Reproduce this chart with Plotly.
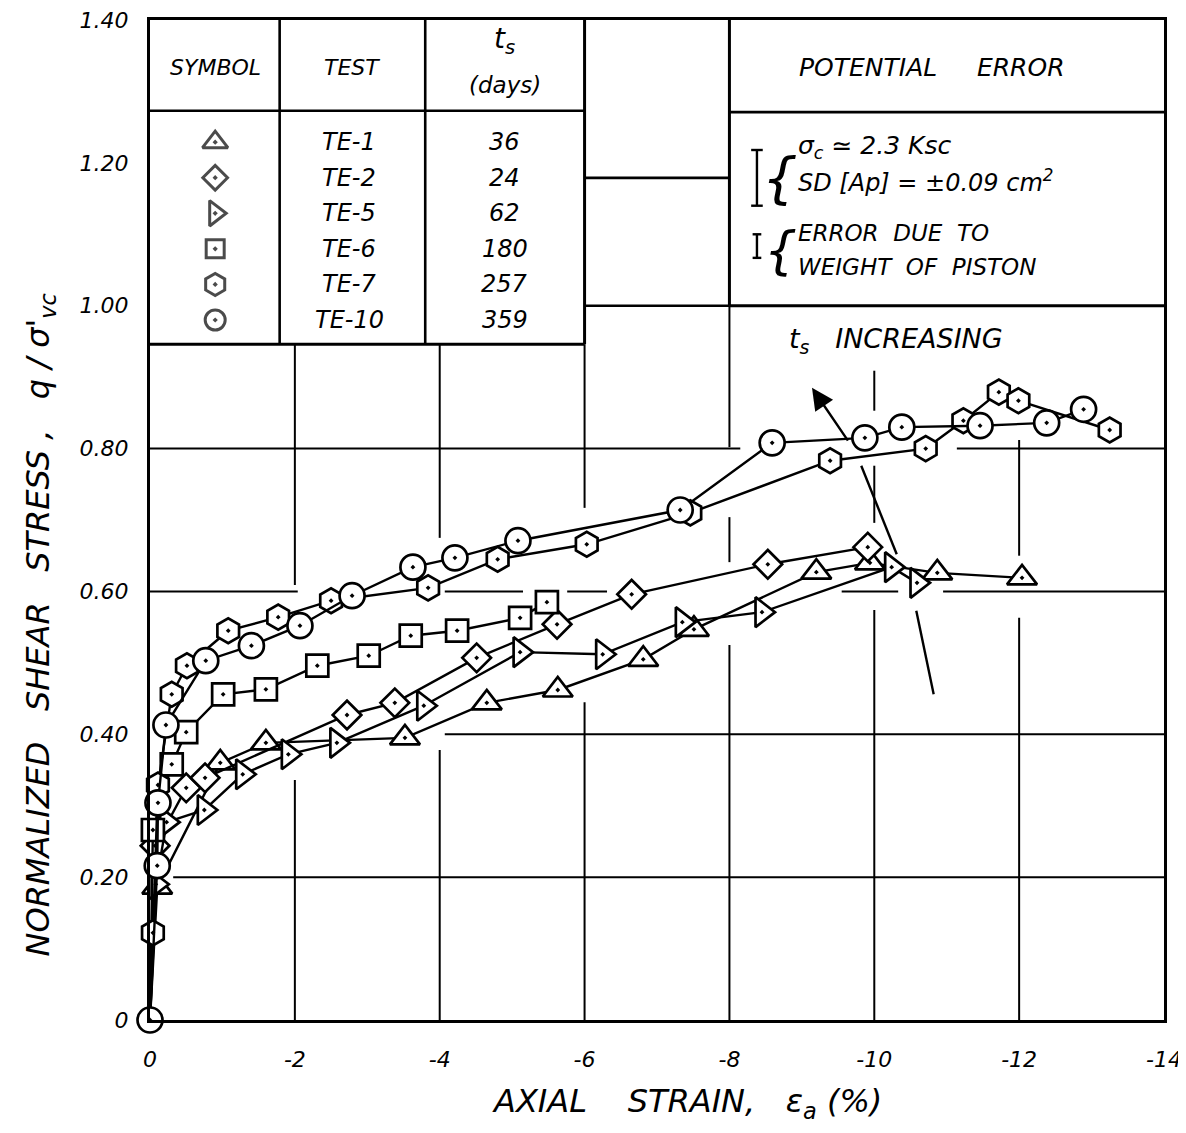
import plotly.graph_objects as go

# ---------------- data ----------------
tests = ["TE-1", "TE-2", "TE-5", "TE-6", "TE-7", "TE-10"]
ts_days = ["36", "24", "62", "180", "257", "359"]

te1_x = [0, -0.10, -0.97, -1.60, -3.52, -4.65, -5.63, -6.81, -7.51, -9.20, -9.94, -10.87, -12.04]
te1_y = [0, 0.186, 0.360, 0.388, 0.395, 0.444, 0.462, 0.505, 0.547, 0.627, 0.640, 0.626, 0.619]

te2_x = [0, -0.07, -0.50, -0.76, -2.72, -3.38, -4.51, -5.62, -6.65, -8.53, -9.91]
te2_y = [0, 0.244, 0.325, 0.339, 0.427, 0.444, 0.507, 0.554, 0.596, 0.638, 0.662]

te5_x = [0, -0.08, -0.23, -0.75, -1.28, -1.91, -2.58, -3.78, -5.11, -6.25, -7.35, -8.45, -10.24, -10.59]
te5_y = [0, 0.190, 0.277, 0.294, 0.344, 0.372, 0.388, 0.440, 0.515, 0.512, 0.557, 0.571, 0.634, 0.612]

te6_x = [0, -0.04, -0.30, -0.50, -1.01, -1.60, -2.31, -3.02, -3.60, -4.24, -5.11, -5.48]
te6_y = [0, 0.266, 0.358, 0.403, 0.456, 0.463, 0.496, 0.510, 0.538, 0.545, 0.563, 0.585]

te7_x = [0, -0.04, -0.11, -0.30, -0.51, -1.08, -1.77, -2.50, -3.84, -4.80, -6.03, -7.46, -9.39, -10.71, -11.23, -11.72, -11.99, -13.25]
te7_y = [0, 0.122, 0.329, 0.456, 0.496, 0.545, 0.564, 0.587, 0.605, 0.645, 0.666, 0.710, 0.783, 0.800, 0.839, 0.879, 0.867, 0.826]

te10_x = [0, -0.10, -0.11, -0.22, -0.77, -1.40, -2.07, -2.79, -3.63, -4.21, -5.08, -7.32, -8.59, -9.87, -10.38, -11.46, -12.38, -12.89]
te10_y = [0, 0.216, 0.304, 0.413, 0.503, 0.524, 0.552, 0.594, 0.634, 0.647, 0.671, 0.714, 0.808, 0.815, 0.830, 0.832, 0.836, 0.855]

x_ticks = [0, -2, -4, -6, -8, -10, -12, -14]
x_ticktext = ["0", "-2", "-4", "-6", "-8", "-10", "-12", "-14"]
y_ticks = [0, 0.2, 0.4, 0.6, 0.8, 1.0, 1.2, 1.4]
y_ticktext = ["0", "0.20", "0.40", "0.60", "0.80", "1.00", "1.20", "1.40"]

# ---------------- styling ----------------
FONT = "DejaVu Sans"
BLACK = "black"
symbols = ["triangle-up-dot", "diamond-dot", "triangle-right-dot",
           "square-dot", "hexagon-dot", "circle-dot"]
msize = [26, 22, 26, 22, 25, 25]
series = [(te1_x, te1_y), (te2_x, te2_y), (te5_x, te5_y),
          (te6_x, te6_y), (te7_x, te7_y), (te10_x, te10_y)]
NB = "&nbsp;"

fig = go.Figure()

for i, (xs, ys) in enumerate(series):
    # the origin symbol is drawn once (TE-10 circle); other lines start there without a symbol
    op = [1.0] * len(xs)
    if tests[i] != "TE-10":
        op[0] = 0.0
    fig.add_trace(go.Scatter(
        x=xs, y=ys, mode="lines+markers", name=tests[i],
        line=dict(color=BLACK, width=2.4),
        marker=dict(symbol=symbols[i], size=msize[i], color="white",
                    opacity=op, line=dict(color=BLACK, width=2.7)),
        cliponaxis=False, showlegend=False))

# ---------------- grid (hand-drawn grid with gaps) ----------------
grid_v = [(-2, 0.609, 0.946), (-2, 0, 0.336),
          (-4, 0.675, 0.946), (-4, 0, 0.378),
          (-6, 0.717, 0.946), (-6, 0, 0.445),
          (-8, 0.802, 1.0), (-8, 0.641, 0.704), (-8, 0, 0.525),
          (-10, 0.853, 0.909), (-10, 0.696, 0.776), (-10, 0, 0.574),
          (-12, 0.650, 0.812), (-12, 0, 0.563)]
grid_h = [(0.8, 0, -8.15), (0.8, -11.14, -14),
          (0.6, 0, -2.04), (0.6, -4.07, -5.15), (0.6, -5.76, -6.31),
          (0.6, -9.55, -10.33), (0.6, -10.95, -14),
          (0.4, -4.07, -14), (0.2, -0.32, -14)]
shapes = []
for gx, a, b in grid_v:
    shapes.append(dict(type="line", xref="x", yref="y", x0=gx, x1=gx, y0=a, y1=b,
                       line=dict(color=BLACK, width=2), layer="below"))
for gy, a, b in grid_h:
    shapes.append(dict(type="line", xref="x", yref="y", x0=a, x1=b, y0=gy, y1=gy,
                       line=dict(color=BLACK, width=2), layer="below"))

# ---------------- table boxes ----------------
def ln(x0, y0, x1, y1, w=2.6):
    shapes.append(dict(type="line", xref="x", yref="y", x0=x0, x1=x1, y0=y0, y1=y1,
                       line=dict(color=BLACK, width=w), layer="above"))

# left legend table
ln(0, 0.946, -6, 0.946, 3)
ln(-6, 0.946, -6, 1.4, 3)
ln(-1.79, 0.946, -1.79, 1.4)
ln(-3.80, 0.946, -3.80, 1.4)
ln(0, 1.273, -6, 1.273)
# middle column
ln(-6, 1.0, -8, 1.0)
ln(-8, 1.0, -8, 1.4, 3)
ln(-6, 1.179, -8, 1.179)
# right table
ln(-8, 1.0, -14, 1.0, 3)
ln(-8, 1.271, -14, 1.271)

# error bars in right table
ln(-8.38, 1.140, -8.38, 1.218, 2.4)
ln(-8.30, 1.218, -8.46, 1.218, 2.4)
ln(-8.30, 1.140, -8.46, 1.140, 2.4)
ln(-8.38, 1.067, -8.38, 1.100, 2.4)
ln(-8.32, 1.100, -8.44, 1.100, 2.4)
ln(-8.32, 1.067, -8.44, 1.067, 2.4)

# "ts increasing" arrow shaft (broken where it crosses the curves)
ln(-10.82, 0.456, -10.58, 0.573, 2.4)
ln(-10.31, 0.652, -9.82, 0.776, 2.4)

annotations = []
def txt(x, y, s, size=19, anchor="center", **kw):
    annotations.append(dict(x=x, y=y, xref="x", yref="y", text=s, showarrow=False,
                            xanchor=anchor, yanchor="middle",
                            font=dict(family=FONT, size=size, color=BLACK, style="italic"), **kw))

# left table text
txt(-0.90, 1.333, "SYMBOL", 22)
txt(-2.79, 1.333, "TEST", 22)
txt(-4.90, 1.372, "t<sub>s</sub>", 28)
txt(-4.90, 1.309, "(days)", 23)
row_y = [1.229 - 0.0498 * i for i in range(len(tests))]
for i in range(len(tests)):
    txt(-2.75, row_y[i], tests[i], 24)
    txt(-4.90, row_y[i], ts_days[i], 24)

# legend symbols column
fig.add_trace(go.Scatter(
    x=[-0.90] * len(tests), y=row_y, mode="markers",
    marker=dict(symbol=symbols, size=[22, 19, 22, 18, 22, 20], color="white",
                line=dict(color=BLACK, width=3)),
    hoverinfo="skip", showlegend=False, cliponaxis=False))

# right table text
txt(-10.80, 1.333, "POTENTIAL" + NB * 5 + "ERROR", 25)
txt(-8.70, 1.180, "{", 56)
txt(-8.70, 1.078, "{", 52)
txt(-8.92, 1.222, "σ<sub>c</sub>" + NB + "≃" + NB + "2.3" + NB + "Ksc", 25, anchor="left")
txt(-8.92, 1.174, "SD" + NB + "[Ap]" + NB + "=" + NB + "±0.09" + NB + "cm<sup>2</sup>", 24, anchor="left")
txt(-8.92, 1.102, "ERROR" + NB + " DUE" + NB + " TO", 23, anchor="left")
txt(-8.92, 1.054, "WEIGHT" + NB + " OF" + NB + " PISTON", 23, anchor="left")

# ts increasing label
txt(-8.80, 0.951, "t<sub>s</sub>" + NB * 3 + "INCREASING", 27, anchor="left")
annotations.append(dict(x=-9.14, y=0.885, ax=-9.65, ay=0.809, xref="x", yref="y",
                        axref="x", ayref="y", text="", showarrow=True,
                        arrowhead=2, arrowsize=1.8, arrowwidth=2.4, arrowcolor=BLACK))

# axis titles (placed as in the reference)
annotations.append(dict(x=0.53, y=-0.083, xref="paper", yref="paper", showarrow=False,
                        text="AXIAL" + NB * 4 + "STRAIN," + NB * 3 + "ε<sub>a</sub>" + NB + "(%)",
                        xanchor="center", yanchor="middle",
                        font=dict(family=FONT, size=32, color=BLACK, style="italic")))
annotations.append(dict(x=-0.108, y=0.395, xref="paper", yref="paper", showarrow=False,
                        text="NORMALIZED" + NB * 3 + "SHEAR" + NB * 3 + "STRESS" + NB + "," + NB * 3
                             + "q" + NB + "/" + NB + "σ'<sub>vc</sub>",
                        textangle=-90, xanchor="center", yanchor="middle",
                        font=dict(family=FONT, size=32, color=BLACK, style="italic")))

axis_font = dict(family=FONT, size=22, color=BLACK, style="italic")
fig.update_layout(
    width=1178, height=1125,
    margin=dict(l=142, r=22, t=12, b=113, autoexpand=False),
    paper_bgcolor="white", plot_bgcolor="white",
    shapes=shapes, annotations=annotations,
    xaxis=dict(range=[0, -14], tickvals=x_ticks, ticktext=x_ticktext,
               showgrid=False, zeroline=False, showline=True, linecolor=BLACK,
               linewidth=3, mirror=True, ticks="", ticklabelstandoff=18,
               ticklabeloverflow="allow", tickfont=axis_font),
    yaxis=dict(range=[0, 1.4], tickvals=y_ticks, ticktext=y_ticktext,
               showgrid=False, zeroline=False, showline=True, linecolor=BLACK,
               linewidth=3, mirror=True, ticks="", ticklabelstandoff=14,
               ticklabeloverflow="allow", tickfont=axis_font),
)

fig.write_html("out.html")
